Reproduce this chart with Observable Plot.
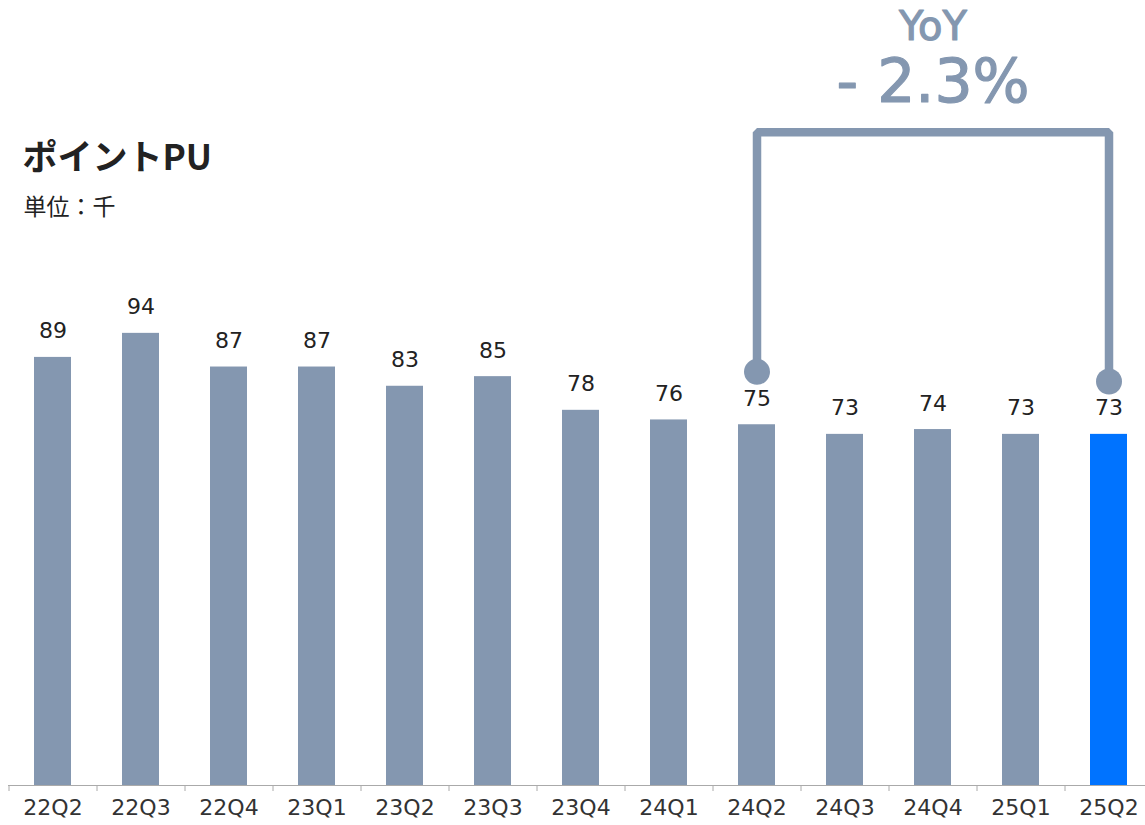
<!DOCTYPE html>
<html>
<head>
<meta charset="utf-8">
<script src="https://cdn.jsdelivr.net/npm/d3@7"></script>
<script src="https://cdn.jsdelivr.net/npm/@observablehq/plot@0.6"></script>
<style>
  html, body { margin: 0; padding: 0; background: #fff; }
  #chart svg { display: block; }
</style>
</head>
<body>
<div id="chart"></div>
<script>
const categories = ["22Q2","22Q3","22Q4","23Q1","23Q2","23Q3","23Q4","24Q1","24Q2","24Q3","24Q4","25Q1","25Q2"];
const values = [89, 94, 87, 87, 83, 85, 78, 76, 75, 73, 74, 73, 73];
const highlight = "25Q2";
const titleText = "ポイントPU";
const unitText = "単位：千";
const yoyFrom = "24Q2";
const yoyTo = "25Q2";
const yoyMid = "24Q4";
const yoyTitle = "YoY";
const yoyValue = "- 2.3%";

const data = categories.map((c, i) => ({cat: c, value: values[i]}));
const byCat = new Map(data.map(d => [d.cat, d.value]));

const grey = "#8497b0";
const blue = "#0073ff";
const W = 1145, H = 825;
const xRange = [8, 1152];
const step = (xRange[1] - xRange[0]) / categories.length;

const dotLift = 11;       // dots sit above bar tops
const bracketTop = 135.8; // bracket level in value units
const bracket = [
  {x: yoyFrom, y: byCat.get(yoyFrom) + dotLift},
  {x: yoyFrom, y: bracketTop},
  {x: yoyTo, y: bracketTop},
  {x: yoyTo, y: byCat.get(yoyTo) + dotLift}
];
const dots = [bracket[0], bracket[3]];

const chart = Plot.plot({
  width: W,
  height: H,
  marginTop: 0,
  marginBottom: 40,
  marginLeft: 8,
  marginRight: 0,
  style: {fontFamily: "'DejaVu Sans', sans-serif", background: "#fff"},
  x: {domain: categories, range: xRange, paddingInner: 0.583, paddingOuter: 0.2915, axis: null},
  y: {domain: [0, 163.2], axis: null},
  marks: [
    Plot.barY(data, {x: "cat", y: "value", fill: d => d.cat === highlight ? blue : grey}),
    Plot.ruleY([0], {stroke: "#aaaaaa", strokeWidth: 1}),
    Plot.ruleX(categories, {x: d => d, dx: -step / 2, y1: 0, y2: -1.25, stroke: "#aaaaaa", strokeWidth: 1}),
    Plot.text(data, {x: "cat", y: "value", text: d => String(d.value), dy: -26, fontSize: 22, fill: "#222"}),
    Plot.axisX({tickSize: 0, tickPadding: 14, fontSize: 22, color: "#333", fill: "#333"}),
    Plot.line(bracket, {x: "x", y: "y", stroke: grey, strokeWidth: 8.5, strokeLinejoin: "miter", strokeLinecap: "butt"}),
    Plot.dot(dots, {x: "x", y: "y", r: 13, fill: grey}),
    Plot.text([yoyTitle], {x: () => yoyMid, y: () => bracketTop, text: d => d, dy: -105, fontSize: 40, fontWeight: 400, fill: grey, stroke: grey, strokeWidth: 1.2, fontFamily: "'DejaVu Sans', sans-serif"}),
    Plot.text([yoyValue], {x: () => yoyMid, y: () => bracketTop, text: d => d, dy: -49, fontSize: 60, fontWeight: 400, fill: grey, stroke: grey, strokeWidth: 1.2, fontFamily: "'DejaVu Sans', sans-serif"}),
    Plot.text([titleText], {frameAnchor: "top-left", dx: 14, dy: 158, text: d => d, fontSize: 35, fontWeight: 700, fill: "#222", textAnchor: "start", lineAnchor: "middle", fontFamily: "'Noto Sans CJK JP', sans-serif"}),
    Plot.text([unitText], {frameAnchor: "top-left", dx: 15, dy: 207, text: d => d, fontSize: 23, fill: "#222", textAnchor: "start", lineAnchor: "middle", fontFamily: "'Noto Sans CJK JP', sans-serif"})
  ]
});
document.getElementById("chart").appendChild(chart);
</script>
</body>
</html>
